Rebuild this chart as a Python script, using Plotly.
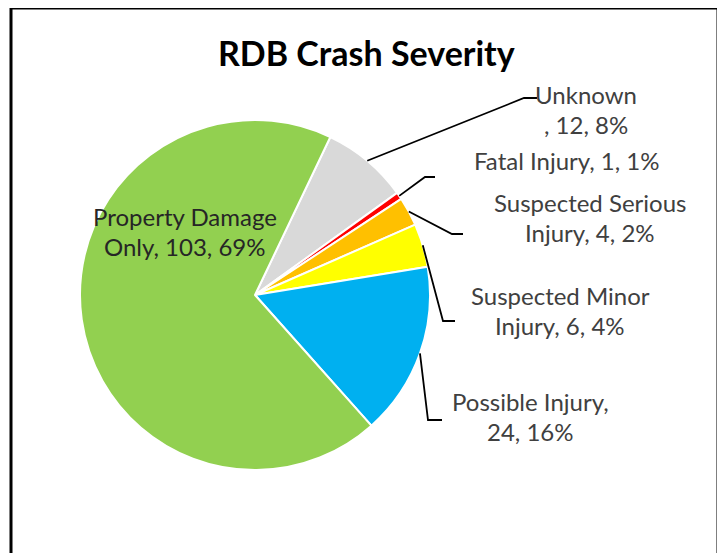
import math
import plotly.graph_objects as go

# ---- data ----
categories = ["Unknown", "Fatal Injury", "Suspected Serious Injury",
              "Suspected Minor Injury", "Possible Injury", "Property Damage Only"]
counts = [12, 1, 4, 6, 24, 103]
percent_labels = [8, 1, 2, 4, 16, 69]
colors = ["#D9D9D9", "#FF0000", "#FFC000", "#FFFF00", "#00B0F0", "#92D050"]

OFF = 8                     # page body margin offset
W, H = 725 - OFF, 553 - OFF
CX, CY, R = 255, 295, 175   # pie centre / radius in screen pixels
ROT = 25.5                  # first slice start angle (deg clockwise from 12 o'clock)

# label layout (screen pixels): centre x, first line y, elbow point, end of horizontal leg
label_break = [7, None, 17, 15, 16, 15]
label_pos = [(586, 94), (567, 161), (590, 202), (560, 295), (530, 401), (185, 216)]
elbows = [((524, 98), (537, 98)),
          ((425, 177), (435, 177)),
          ((452, 234), (463, 234)),
          ((443, 321), (455, 321)),
          ((428, 420), (442, 420)),
          None]
LINE_GAP = 30
FONT = "Lato"


def px(x, y):
    return (x - OFF) / W, 1 - (y - OFF) / H


fig = go.Figure(go.Pie(
    labels=categories, values=counts, sort=False, direction="clockwise",
    rotation=ROT, textinfo="none", hoverinfo="label+value+percent",
    marker=dict(colors=colors, line=dict(color="white", width=2)),
    domain=dict(x=[px(CX - R, 0)[0], px(CX + R, 0)[0]],
                y=[px(0, CY + R)[1], px(0, CY - R)[1]]),
    showlegend=False,
))

total = sum(counts)
shapes = []
annotations = []
cum = 0
for i, (cat, v) in enumerate(zip(categories, counts)):
    mid = ROT + 360 * (cum + v / 2) / total
    cum += v
    text = f"{cat}, {v}, {percent_labels[i]}%"
    b = label_break[i]
    lines = [text] if b is None else [text[:b], text[b:].lstrip()]
    lx, ly = label_pos[i]
    color = "#262626" if elbows[i] is None else "#404040"
    for k, ln in enumerate(lines):
        x, y = px(lx, ly + k * LINE_GAP)
        annotations.append(dict(text=ln, x=x, y=y, xref="paper", yref="paper",
                                xanchor="center", yanchor="middle", showarrow=False,
                                font=dict(family=FONT, size=24, color=color)))
    if elbows[i] is not None:
        a = math.radians(mid)
        sx, sy = CX + R * math.sin(a), CY - R * math.cos(a)
        (ex, ey), (hx, hy) = elbows[i]
        p = [px(sx, sy), px(ex, ey), px(hx, hy)]
        path = "M {} {} L {} {} L {} {}".format(p[0][0], p[0][1], p[1][0], p[1][1], p[2][0], p[2][1])
        shapes.append(dict(type="path", path=path, xref="paper", yref="paper",
                           line=dict(color="black", width=1.8)))

# chart border
x0, y0 = px(11, 8)
x1, y1 = px(718, 580)
shapes.append(dict(type="rect", xref="paper", yref="paper", x0=x0, y0=y1, x1=x1, y1=y0,
                   line=dict(color="black", width=3)))

tx, ty = px(366, 52)
annotations.append(dict(text="<b>RDB Crash Severity</b>", x=tx, y=ty, xref="paper", yref="paper",
                        xanchor="center", yanchor="middle", showarrow=False,
                        font=dict(family=FONT, size=34, color="black")))

fig.update_layout(width=W, height=H, margin=dict(l=0, r=0, t=0, b=0),
                  paper_bgcolor="white", plot_bgcolor="white",
                  shapes=shapes, annotations=annotations)

fig.write_html("out.html")
